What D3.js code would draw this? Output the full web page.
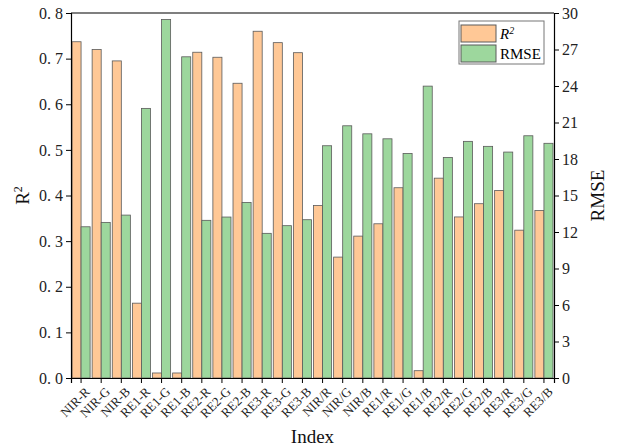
<!DOCTYPE html>
<html>
<head>
<meta charset="utf-8">
<script src="https://cdn.jsdelivr.net/npm/d3@7"></script>
<style>
  body { margin: 0; background: #fff; }
  svg { font-family: "Times New Roman", "Liberation Serif", "DejaVu Serif", serif; }
</style>
</head>
<body>
<div id="chart"></div>
<script>
const categories = ["NIR-R","NIR-G","NIR-B","RE1-R","RE1-G","RE1-B","RE2-R","RE2-G","RE2-B","RE3-R","RE3-G","RE3-B",
  "NIR/R","NIR/G","NIR/B","RE1/R","RE1/G","RE1/B","RE2/R","RE2/G","RE2/B","RE3/R","RE3/G","RE3/B"]
const r2Values = [0.737,0.720,0.695,0.164,0.011,0.011,0.714,0.703,0.646,0.760,0.735,0.713,
  0.378,0.265,0.311,0.338,0.417,0.016,0.438,0.353,0.382,0.411,0.324,0.367]
const rmseValues = [12.43,12.79,13.39,22.16,29.47,26.40,12.96,13.23,14.43,11.89,12.52,13.01,
  19.09,20.73,20.07,19.66,18.46,23.99,18.13,19.45,19.04,18.57,19.91,19.29]
const r2Ticks = [0,0.1,0.2,0.3,0.4,0.5,0.6,0.7,0.8]
const rmseTicks = [0,3,6,9,12,15,18,21,24,27,30]

const W = 618, H = 447
const margin = {top: 13, right: 64, bottom: 69, left: 71}
const iw = W - margin.left - margin.right
const ih = H - margin.top - margin.bottom
const colors = {r2: '#ffc896', rmse: '#9dd79d', stroke: '#5a5a5a'}
const serif = '"Times New Roman", "Liberation Serif", "DejaVu Serif", serif'

const svg = d3.select('#chart').append('svg').attr('width', W).attr('height', H)
  .attr('font-family', serif)
const g = svg.append('g').attr('transform', `translate(${margin.left},${margin.top})`)

const x = d3.scaleBand().domain(categories).range([0, iw]).paddingInner(0.1).paddingOuter(0.05)
const xs = d3.scaleBand().domain(['r2','rmse']).range([0, x.bandwidth()])
const yL = d3.scaleLinear().domain([0, 0.8]).range([ih, 0])
const yR = d3.scaleLinear().domain([0, 30]).range([ih, 0])

// bars
const groups = g.selectAll('.cat').data(categories).enter().append('g')
  .attr('class', 'cat')
  .attr('transform', d => `translate(${x(d)},0)`)
groups.append('rect')
  .attr('x', xs('r2')).attr('width', xs.bandwidth())
  .attr('y', (d, i) => yL(r2Values[i])).attr('height', (d, i) => ih - yL(r2Values[i]))
  .attr('fill', colors.r2).attr('stroke', colors.stroke).attr('stroke-width', 0.8)
groups.append('rect')
  .attr('x', xs('rmse')).attr('width', xs.bandwidth())
  .attr('y', (d, i) => yR(rmseValues[i])).attr('height', (d, i) => ih - yR(rmseValues[i]))
  .attr('fill', colors.rmse).attr('stroke', colors.stroke).attr('stroke-width', 0.8)

// frame top
g.append('line').attr('x1', 0).attr('x2', iw).attr('y1', 0).attr('y2', 0)
  .attr('stroke', '#000').attr('stroke-width', 1.2)

// axes
const left = g.append('g')
  .call(d3.axisLeft(yL).tickValues(r2Ticks).tickFormat(d => d3.format('.1f')(d).replace('.', '. ')).tickSize(5))
const right = g.append('g').attr('transform', `translate(${iw},0)`)
  .call(d3.axisRight(yR).tickValues(rmseTicks).tickSize(5))
const bottom = g.append('g').attr('transform', `translate(0,${ih})`)
  .call(d3.axisBottom(x).tickSize(5))

;[left, right, bottom].forEach(a => {
  a.attr('font-family', serif)
  a.select('.domain').attr('stroke', '#000').attr('stroke-width', 1.2)
  a.selectAll('.tick line').attr('stroke', '#000')
  a.selectAll('text').attr('fill', '#222')
})
left.selectAll('text').attr('font-size', 16)
right.selectAll('text').attr('font-size', 16)
bottom.selectAll('text')
  .attr('font-size', 13)
  .attr('text-anchor', 'end')
  .attr('dx', 0).attr('dy', 0)
  .attr('transform', 'translate(4,9) rotate(-45)')

// axis titles
svg.append('text').attr('transform', `translate(29,${margin.top + ih / 2}) rotate(-90)`)
  .attr('text-anchor', 'middle').attr('font-size', 19).attr('fill', '#111')
  .html('R<tspan baseline-shift="super" font-size="12">2</tspan>')
svg.append('text').attr('transform', `translate(604,${margin.top + ih / 2}) rotate(-90)`)
  .attr('text-anchor', 'middle').attr('font-size', 19).attr('fill', '#111')
  .text('RMSE')
svg.append('text').attr('x', margin.left + iw / 2).attr('y', 443)
  .attr('text-anchor', 'middle').attr('font-size', 19).attr('fill', '#111')
  .text('Index')

// legend
const lg = svg.append('g').attr('transform', 'translate(459,21)')
lg.append('rect').attr('width', 85).attr('height', 43)
  .attr('fill', '#fff').attr('stroke', '#777').attr('stroke-width', 1)
lg.append('rect').attr('x', 2).attr('y', 4).attr('width', 35).attr('height', 17)
  .attr('fill', colors.r2).attr('stroke', colors.stroke)
lg.append('rect').attr('x', 2).attr('y', 24).attr('width', 35).attr('height', 17)
  .attr('fill', colors.rmse).attr('stroke', colors.stroke)
lg.append('text').attr('x', 41).attr('y', 18).attr('font-size', 15).attr('font-style', 'italic')
  .html('R<tspan baseline-shift="super" font-size="10">2</tspan>')
lg.append('text').attr('x', 41).attr('y', 38).attr('font-size', 15).text('RMSE')
</script>
</body>
</html>
